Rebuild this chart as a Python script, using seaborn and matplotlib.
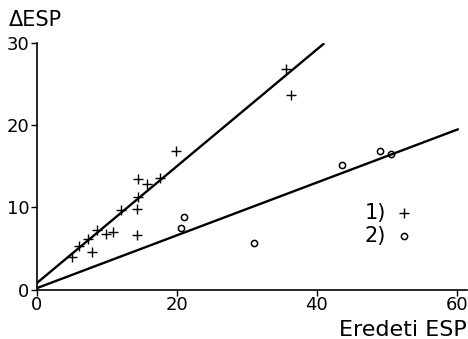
import matplotlib
matplotlib.use("Agg")
import matplotlib.pyplot as plt
import seaborn as sns
import pandas as pd

# Series 1 (+)
x1 = [5.1, 6.1, 7.4, 7.9, 8.6, 9.9, 10.9, 12.0, 14.3, 14.5, 14.3, 14.5, 15.8, 17.7, 19.9, 35.6, 36.4]
y1 = [3.9, 5.3, 6.1, 4.6, 7.3, 6.7, 7.0, 9.7, 9.8, 11.2, 6.6, 13.5, 12.9, 13.6, 16.9, 26.9, 23.7]
# Series 2 (o)
x2 = [20.7, 21.0, 31.1, 43.7, 49.0, 50.6]
y2 = [7.5, 8.8, 5.7, 15.2, 16.9, 16.5]
# Fitted lines (endpoints)
line1_x = [0, 41]
line1_y = [0.75, 29.9]
line2_x = [0, 60.2]
line2_y = [0.15, 19.5]

x_ticks = [0, 20, 40, 60]
y_ticks = [0, 10, 20, 30]
labels = ["1)", "2)"]

sns.set_style("ticks")
plt.rcParams['font.family'] = ['DejaVu Sans']
plt.rcParams['text.color'] = 'black'
plt.rcParams['axes.labelcolor'] = 'black'

fig = plt.figure(figsize=(4.68, 3.39), dpi=100)
ax = fig.add_axes([0.078, 0.146, 0.92, 0.727])

d1 = pd.DataFrame({"x": x1, "y": y1})
d2 = pd.DataFrame({"x": x2, "y": y2})
l1 = pd.DataFrame({"x": line1_x, "y": line1_y})
l2 = pd.DataFrame({"x": line2_x, "y": line2_y})

sns.lineplot(data=l1, x="x", y="y", ax=ax, color="black", lw=1.7, estimator=None, sort=False)
sns.lineplot(data=l2, x="x", y="y", ax=ax, color="black", lw=1.7, estimator=None, sort=False)
sns.scatterplot(data=d1, x="x", y="y", ax=ax, marker="+", s=45, color="black", linewidth=1.0, label=labels[0])
sns.scatterplot(data=d2, x="x", y="y", ax=ax, marker="o", s=20, facecolor="white", edgecolor="black", linewidth=1.1, label=labels[1])

ax.set_xlim(0, 61.5)
ax.set_ylim(0, 30)
ax.set_xticks(x_ticks)
ax.set_yticks(y_ticks)
ax.tick_params(axis="both", labelsize=13, length=4, width=1, pad=1, colors="black")
for s in ["left", "bottom"]:
    ax.spines[s].set_linewidth(1.2)
    ax.spines[s].set_color("black")
sns.despine(ax=ax)
ax.set_xlabel("")
ax.set_ylabel("")

fig.text(0.018, 0.941, "ΔESP", fontsize=15, ha="left", va="center", color="black")
fig.text(0.997, 0.026, "Eredeti ESP", fontsize=16, ha="right", va="center", color="black")

leg = ax.legend(loc="center left", bbox_to_anchor=(0.742, 0.265), frameon=False,
                markerfirst=False, fontsize=15, handletextpad=0.4, labelspacing=0.15,
                handlelength=1.0, borderaxespad=0)
for t in leg.get_texts():
    t.set_color("black")

fig.savefig("out.png", dpi=100)
